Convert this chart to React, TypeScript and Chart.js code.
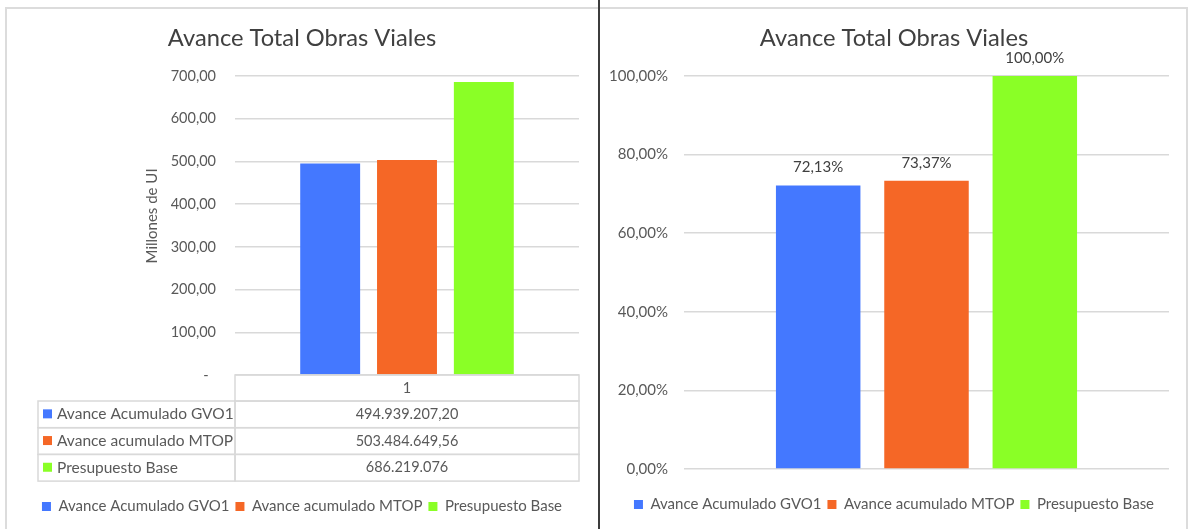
import React, { useEffect, useRef } from 'react';
import { Chart, registerables } from 'chart.js';

Chart.register(...registerables);

// ---------- data ----------
const categories = ['1'];
const seriesNames = ['Avance Acumulado GVO1', 'Avance acumulado MTOP', 'Presupuesto Base'];
const seriesColors = ['#4478FF', '#F56726', '#8AFF26'];
const amountsUI = [494939207.2, 503484649.56, 686219076];
const amountLabels = ['494.939.207,20', '503.484.649,56', '686.219.076'];
const percentValues = [72.13, 73.37, 100];
const chartTitle = 'Avance Total Obras Viales';
const leftAxisTitle = 'Millones de UI';
const leftAxisMax = 700;
const leftAxisStep = 100;
const rightAxisMax = 100;
const rightAxisStep = 20;

// ---------- style ----------
const FONT = 'Lato, "Open Sans", sans-serif';
const TITLE_COLOR = '#404040';
const TEXT_COLOR = '#595959';
const GRID_COLOR = '#d9d9d9';
const LABEL_SIZE = 15.5;
const NUM_SIZE = 14.5;

const fmt2 = (v: number) => v.toFixed(2).replace('.', ',');

const titleOpts = {
  display: true,
  text: chartTitle,
  color: TITLE_COLOR,
  font: { family: FONT, size: 23.7, weight: 'normal' as const },
  padding: { top: 14.8, bottom: 23.8 },
};

const legendOpts = {
  position: 'bottom' as const,
  labels: {
    boxWidth: 9,
    boxHeight: 9,
    padding: 6,
    color: TEXT_COLOR,
    font: { family: FONT, size: 15 },
  },
};

// invisible axis on the right that only reserves the right-hand gap
const rightGapAxis = (w: number) => ({
  type: 'linear' as const,
  position: 'right' as const,
  display: true,
  ticks: { display: false },
  grid: { display: false, drawTicks: false },
  border: { display: false },
  afterFit: (s: any) => { s.width = w; },
});

const tablePlugin = {
  id: 'dataTable',
  afterDraw(chart: any) {
    const { ctx, chartArea } = chart;
    const xScale = chart.scales.x;
    const left = chartArea.left;
    const right = chartArea.right;
    const top = chartArea.bottom;
    const headerH = 26;
    const rowH = 26.7;
    const labelLeft = 31;
    ctx.save();
    ctx.strokeStyle = GRID_COLOR;
    ctx.lineWidth = 1.5;
    ctx.strokeRect(left, top, right - left, headerH);
    ctx.textBaseline = 'middle';
    ctx.fillStyle = TEXT_COLOR;
    ctx.textAlign = 'center';
    ctx.font = `${NUM_SIZE}px ${FONT}`;
    categories.forEach((c, ci) => {
      ctx.fillText(c, xScale.getPixelForValue(ci), top + headerH / 2);
    });
    seriesNames.forEach((name, i) => {
      const y = top + headerH + i * rowH;
      ctx.strokeStyle = GRID_COLOR;
      ctx.strokeRect(labelLeft, y, left - labelLeft, rowH);
      ctx.strokeRect(left, y, right - left, rowH);
      ctx.fillStyle = seriesColors[i];
      ctx.fillRect(labelLeft + 5, y + rowH / 2 - 5, 9, 9);
      ctx.fillStyle = TEXT_COLOR;
      ctx.textAlign = 'left';
      ctx.font = `${LABEL_SIZE}px ${FONT}`;
      ctx.fillText(name, labelLeft + 19, y + rowH / 2);
      ctx.textAlign = 'center';
      ctx.font = `${NUM_SIZE}px ${FONT}`;
      ctx.fillText(amountLabels[i], xScale.getPixelForValue(0), y + rowH / 2);
    });
    ctx.restore();
  },
};

const valueLabelPlugin = {
  id: 'valueLabels',
  afterDatasetsDraw(chart: any) {
    const { ctx } = chart;
    ctx.save();
    ctx.font = `15px ${FONT}`;
    ctx.fillStyle = TITLE_COLOR;
    ctx.textAlign = 'center';
    ctx.textBaseline = 'middle';
    chart.data.datasets.forEach((ds: any, i: number) => {
      const meta = chart.getDatasetMeta(i);
      meta.data.forEach((bar: any, j: number) => {
        ctx.fillText(fmt2(ds.data[j]) + '%', bar.x, bar.y - 18);
      });
    });
    ctx.restore();
  },
};

function LeftChart() {
  const ref = useRef<HTMLCanvasElement>(null);
  useEffect(() => {
    const chart = new Chart(ref.current!, {
      type: 'bar',
      data: {
        labels: categories,
        datasets: seriesNames.map((name, i) => ({
          label: name,
          data: [amountsUI[i] / 1e6],
          backgroundColor: seriesColors[i],
          borderWidth: 0,
          barPercentage: 0.78,
          categoryPercentage: 0.67,
        })),
      },
      options: {
        animation: false,
        responsive: false,
        maintainAspectRatio: false,
        layout: { padding: { left: 0, right: 0, top: 0, bottom: 5 } },
        plugins: {
          title: titleOpts,
          legend: legendOpts,
          tooltip: { enabled: false },
        },
        scales: {
          x: {
            ticks: { display: false },
            grid: { display: false },
            border: { display: false },
            afterFit: (s: any) => { s.height = 118; },
          },
          y: {
            min: 0,
            max: leftAxisMax,
            ticks: {
              stepSize: leftAxisStep,
              padding: 19,
              color: TEXT_COLOR,
              font: { family: FONT, size: NUM_SIZE },
              callback: (v: any) => (Number(v) === 0 ? '-  ' : fmt2(Number(v))),
            },
            grid: { color: GRID_COLOR, lineWidth: 1.5, drawTicks: false },
            border: { display: false },
            title: {
              display: true,
              text: '     ' + leftAxisTitle,
              color: TEXT_COLOR,
              font: { family: FONT, size: 15 },
              padding: { top: 136, bottom: 0 },
            },
            afterFit: (s: any) => { s.width = 228; },
          },
          gap: rightGapAxis(18),
        },
      },
      plugins: [tablePlugin],
    } as any);
    return () => chart.destroy();
  }, []);
  return <canvas ref={ref} width={590} height={520} style={{ position: 'absolute', left: 7, top: 9, width: 590, height: 520 }} />;
}

function RightChart() {
  const ref = useRef<HTMLCanvasElement>(null);
  useEffect(() => {
    const chart = new Chart(ref.current!, {
      type: 'bar',
      data: {
        labels: categories,
        datasets: seriesNames.map((name, i) => ({
          label: name,
          data: [percentValues[i]],
          backgroundColor: seriesColors[i],
          borderWidth: 0,
          barPercentage: 0.78,
          categoryPercentage: 0.67,
        })),
      },
      options: {
        animation: false,
        responsive: false,
        maintainAspectRatio: false,
        layout: { padding: { left: 0, right: 0, top: 0, bottom: 7 } },
        plugins: {
          title: titleOpts,
          legend: legendOpts,
          tooltip: { enabled: false },
        },
        scales: {
          x: {
            ticks: { display: false },
            grid: { display: false },
            border: { display: false },
            afterFit: (s: any) => { s.height = 22; },
          },
          y: {
            min: 0,
            max: rightAxisMax,
            ticks: {
              stepSize: rightAxisStep,
              padding: 16,
              color: TEXT_COLOR,
              font: { family: FONT, size: 15 },
              callback: (v: any) => fmt2(Number(v)) + '%',
            },
            grid: { color: GRID_COLOR, lineWidth: 1.5, drawTicks: false },
            border: { display: false },
            afterFit: (s: any) => { s.width = 83; },
          },
          gap: rightGapAxis(18),
        },
      },
      plugins: [valueLabelPlugin],
    } as any);
    return () => chart.destroy();
  }, []);
  return <canvas ref={ref} width={586} height={520} style={{ position: 'absolute', left: 601, top: 9, width: 586, height: 520 }} />;
}

export default function App() {
  return (
    <div style={{ position: 'fixed', left: 0, top: 0, width: 1191, height: 529, background: '#fff', overflow: 'hidden' }}>
      <div style={{ position: 'absolute', left: 5, top: 7, width: 591, height: 540, borderTop: '2px solid #dcdcdc', borderLeft: '2px solid #dcdcdc' }} />
      <div style={{ position: 'absolute', left: 600, top: 7, width: 586, height: 540, borderTop: '2px solid #dcdcdc', borderRight: '2px solid #dcdcdc' }} />
      <div style={{ position: 'absolute', left: 598, top: 0, width: 2, height: 529, background: '#3c3c3c' }} />
      <LeftChart />
      <RightChart />
    </div>
  );
}
